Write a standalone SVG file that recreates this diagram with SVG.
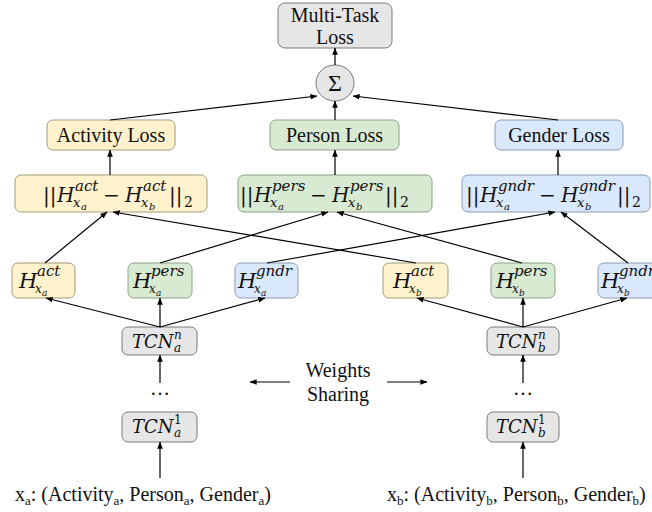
<svg xmlns="http://www.w3.org/2000/svg" width="652" height="512" viewBox="0 0 652 512">
<defs>
<marker id="ah" viewBox="0 0 10 10" refX="9.5" refY="5" markerWidth="7" markerHeight="7" orient="auto" markerUnits="userSpaceOnUse"><path d="M0,1 L10,5 L0,9 z" fill="#000"/></marker>
<style>
.gray{fill:#e6e6e6;stroke:#7a7a7a;stroke-width:1}
.yel{fill:#fff2cc;stroke:#a39a7c;stroke-width:1}
.grn{fill:#d9ead3;stroke:#8aa185;stroke-width:1}
.blu{fill:#dae8fc;stroke:#8b9cb3;stroke-width:1}
.c line{stroke:#000;stroke-width:1.2;fill:none;marker-end:url(#ah)}
</style>
</defs>
<rect width="652" height="512" fill="#fff"/>

<g id="multitask">
<rect class="gray" x="278" y="3" width="114" height="45" rx="7"/>
<text font-family="Liberation Serif, Times New Roman, serif" font-size="20" fill="#111" x="335" y="22" text-anchor="middle">Multi-Task</text>
<text font-family="Liberation Serif, Times New Roman, serif" font-size="20" fill="#111" x="335" y="44" text-anchor="middle">Loss</text>
</g>
<g id="sum">
<ellipse class="gray" cx="335" cy="83" rx="19" ry="18"/>
<text font-family="Liberation Serif, Times New Roman, serif" font-size="24" fill="#111" x="335" y="91" text-anchor="middle">Σ</text>
</g>

<g id="activity-loss"><rect class="yel" x="47" y="120" width="128" height="30" rx="6"/><text font-family="Liberation Serif, Times New Roman, serif" font-size="20" fill="#111" x="111" y="142" text-anchor="middle">Activity Loss</text></g>
<g id="person-loss"><rect class="grn" x="270" y="120" width="129" height="30" rx="6"/><text font-family="Liberation Serif, Times New Roman, serif" font-size="20" fill="#111" x="334.5" y="142" text-anchor="middle">Person Loss</text></g>
<g id="gender-loss"><rect class="blu" x="495" y="120" width="128" height="30" rx="6"/><text font-family="Liberation Serif, Times New Roman, serif" font-size="20" fill="#111" x="559" y="142" text-anchor="middle">Gender Loss</text></g>

<g id="norm-act"><rect class="yel" x="15" y="175" width="192" height="37" rx="6"/>
<text font-family="DejaVu Serif, serif" font-style="italic" fill="#111" font-size="20"><tspan font-style="normal" x="43" y="202">||</tspan><tspan x="57" y="202">H</tspan><tspan x="75" y="191" font-size="15">act</tspan><tspan x="73" y="207" font-size="13">x</tspan><tspan x="81" y="210" font-size="10">a</tspan><tspan font-style="normal" x="103" y="202">−</tspan><tspan x="125" y="202">H</tspan><tspan x="143" y="191" font-size="15">act</tspan><tspan x="141" y="207" font-size="13">x</tspan><tspan x="149" y="210" font-size="10">b</tspan><tspan font-style="normal" x="169" y="202">||</tspan><tspan font-style="normal" x="184" y="207" font-size="14">2</tspan></text></g>

<g id="norm-pers"><rect class="grn" x="238" y="175" width="194" height="37" rx="6"/>
<text font-family="DejaVu Serif, serif" font-style="italic" fill="#111" font-size="20"><tspan font-style="normal" x="240" y="202">||</tspan><tspan x="254" y="202">H</tspan><tspan x="272" y="191" font-size="15">pers</tspan><tspan x="270" y="207" font-size="13">x</tspan><tspan x="278" y="210" font-size="10">a</tspan><tspan font-style="normal" x="310" y="202">−</tspan><tspan x="332" y="202">H</tspan><tspan x="350" y="191" font-size="15">pers</tspan><tspan x="348" y="207" font-size="13">x</tspan><tspan x="356" y="210" font-size="10">b</tspan><tspan font-style="normal" x="385" y="202">||</tspan><tspan font-style="normal" x="400" y="207" font-size="14">2</tspan></text></g>

<g id="norm-gndr"><rect class="blu" x="462" y="175" width="188" height="37" rx="6"/>
<text font-family="DejaVu Serif, serif" font-style="italic" fill="#111" font-size="20"><tspan font-style="normal" x="466" y="202">||</tspan><tspan x="480" y="202">H</tspan><tspan x="498" y="191" font-size="15">gndr</tspan><tspan x="496" y="207" font-size="13">x</tspan><tspan x="504" y="210" font-size="10">a</tspan><tspan font-style="normal" x="539" y="202">−</tspan><tspan x="561" y="202">H</tspan><tspan x="579" y="191" font-size="15">gndr</tspan><tspan x="577" y="207" font-size="13">x</tspan><tspan x="585" y="210" font-size="10">b</tspan><tspan font-style="normal" x="617" y="202">||</tspan><tspan font-style="normal" x="632" y="207" font-size="14">2</tspan></text></g>

<g id="h-a-act"><rect class="yel" x="12" y="263" width="63" height="35" rx="6"/>
<text font-family="DejaVu Serif, serif" font-style="italic" fill="#111" font-size="21"><tspan x="19" y="288">H</tspan><tspan x="37" y="276" font-size="15">act</tspan><tspan x="35" y="293" font-size="12">x</tspan><tspan x="42" y="296" font-size="9">a</tspan></text></g>
<g id="h-a-pers"><rect class="grn" x="128" y="263" width="64" height="35" rx="6"/>
<text font-family="DejaVu Serif, serif" font-style="italic" fill="#111" font-size="21"><tspan x="133" y="288">H</tspan><tspan x="151" y="276" font-size="15">pers</tspan><tspan x="149" y="293" font-size="12">x</tspan><tspan x="156" y="296" font-size="9">a</tspan></text></g>
<g id="h-a-gndr"><rect class="blu" x="235" y="263" width="63" height="35" rx="6"/>
<text font-family="DejaVu Serif, serif" font-style="italic" fill="#111" font-size="21"><tspan x="238" y="288">H</tspan><tspan x="256" y="276" font-size="15">gndr</tspan><tspan x="254" y="293" font-size="12">x</tspan><tspan x="261" y="296" font-size="9">a</tspan></text></g>
<g id="h-b-act"><rect class="yel" x="383" y="263" width="65" height="35" rx="6"/>
<text font-family="DejaVu Serif, serif" font-style="italic" fill="#111" font-size="21"><tspan x="393" y="288">H</tspan><tspan x="411" y="276" font-size="15">act</tspan><tspan x="409" y="293" font-size="12">x</tspan><tspan x="416" y="296" font-size="9">b</tspan></text></g>
<g id="h-b-pers"><rect class="grn" x="491" y="263" width="64" height="35" rx="6"/>
<text font-family="DejaVu Serif, serif" font-style="italic" fill="#111" font-size="21"><tspan x="496" y="288">H</tspan><tspan x="514" y="276" font-size="15">pers</tspan><tspan x="512" y="293" font-size="12">x</tspan><tspan x="519" y="296" font-size="9">b</tspan></text></g>
<g id="h-b-gndr"><rect class="blu" x="598" y="263" width="64" height="35" rx="6"/>
<text font-family="DejaVu Serif, serif" font-style="italic" fill="#111" font-size="21"><tspan x="601" y="288">H</tspan><tspan x="619" y="276" font-size="15">gndr</tspan><tspan x="617" y="293" font-size="12">x</tspan><tspan x="624" y="296" font-size="9">b</tspan></text></g>

<g id="tcn-a-n"><rect class="gray" x="122" y="327" width="75" height="28" rx="6"/>
<text font-family="DejaVu Serif, serif" font-style="italic" fill="#111" font-size="18"><tspan x="132" y="348">TCN</tspan><tspan x="174" y="339" font-size="12">n</tspan><tspan x="174" y="352" font-size="12">a</tspan></text></g>
<g id="tcn-a-1"><rect class="gray" x="122" y="412" width="75" height="30" rx="6"/>
<text font-family="DejaVu Serif, serif" font-style="italic" fill="#111" font-size="18"><tspan x="132" y="433">TCN</tspan><tspan font-style="normal" x="174" y="424" font-size="12">1</tspan><tspan x="174" y="437" font-size="12">a</tspan></text></g>
<g id="tcn-b-n"><rect class="gray" x="487" y="327" width="72" height="28" rx="6"/>
<text font-family="DejaVu Serif, serif" font-style="italic" fill="#111" font-size="18"><tspan x="496" y="348">TCN</tspan><tspan x="538" y="339" font-size="12">n</tspan><tspan x="538" y="352" font-size="12">b</tspan></text></g>
<g id="tcn-b-1"><rect class="gray" x="487" y="412" width="72" height="30" rx="6"/>
<text font-family="DejaVu Serif, serif" font-style="italic" fill="#111" font-size="18"><tspan x="496" y="433">TCN</tspan><tspan font-style="normal" x="538" y="424" font-size="12">1</tspan><tspan x="538" y="437" font-size="12">b</tspan></text></g>

<g id="dots-a"><text font-family="Liberation Serif, Times New Roman, serif" font-size="20" fill="#111" x="160" y="395" text-anchor="middle">…</text></g>
<g id="dots-b"><text font-family="Liberation Serif, Times New Roman, serif" font-size="20" fill="#111" x="523" y="395" text-anchor="middle">…</text></g>

<g id="weights-sharing">
<text font-family="Liberation Serif, Times New Roman, serif" font-size="20" fill="#111" x="338" y="377" text-anchor="middle">Weights</text>
<text font-family="Liberation Serif, Times New Roman, serif" font-size="20" fill="#111" x="338" y="401" text-anchor="middle">Sharing</text>
</g>

<g id="input-a"><text font-family="Liberation Serif, Times New Roman, serif" font-size="20" fill="#111" x="15" y="501">x<tspan font-size="13" dy="4">a</tspan><tspan dy="-4">: (Activity</tspan><tspan font-size="13" dy="4">a</tspan><tspan dy="-4">, Person</tspan><tspan font-size="13" dy="4">a</tspan><tspan dy="-4">, Gender</tspan><tspan font-size="13" dy="4">a</tspan><tspan dy="-4">)</tspan></text></g>
<g id="input-b"><text font-family="Liberation Serif, Times New Roman, serif" font-size="20" fill="#111" x="387" y="501">x<tspan font-size="13" dy="4">b</tspan><tspan dy="-4">: (Activity</tspan><tspan font-size="13" dy="4">b</tspan><tspan dy="-4">, Person</tspan><tspan font-size="13" dy="4">b</tspan><tspan dy="-4">, Gender</tspan><tspan font-size="13" dy="4">b</tspan><tspan dy="-4">)</tspan></text></g>

<g id="connectors" class="c">
<line x1="335" y1="65" x2="335" y2="48"/>
<line x1="110" y1="120" x2="317" y2="96"/>
<line x1="335" y1="120" x2="335" y2="101"/>
<line x1="558" y1="120" x2="353" y2="96"/>
<line x1="110" y1="175" x2="110" y2="150"/>
<line x1="335" y1="175" x2="335" y2="150"/>
<line x1="558" y1="175" x2="558" y2="150"/>
<line x1="45" y1="263" x2="107" y2="212"/>
<line x1="416" y1="263" x2="113" y2="212"/>
<line x1="160" y1="263" x2="328" y2="212"/>
<line x1="522" y1="263" x2="337" y2="212"/>
<line x1="267" y1="263" x2="555" y2="212"/>
<line x1="628" y1="263" x2="561" y2="212"/>
<line x1="160" y1="327" x2="46" y2="298"/>
<line x1="160" y1="327" x2="160" y2="298"/>
<line x1="160" y1="327" x2="265" y2="298"/>
<line x1="523" y1="327" x2="417" y2="298"/>
<line x1="523" y1="327" x2="523" y2="298"/>
<line x1="523" y1="327" x2="627" y2="298"/>
<line x1="160" y1="383" x2="160" y2="355"/>
<line x1="523" y1="383" x2="523" y2="355"/>
<line x1="160" y1="478" x2="160" y2="442"/>
<line x1="523" y1="478" x2="523" y2="442"/>
<line x1="290" y1="382" x2="250" y2="382"/>
<line x1="387" y1="382" x2="427" y2="382"/>
</g>
</svg>
